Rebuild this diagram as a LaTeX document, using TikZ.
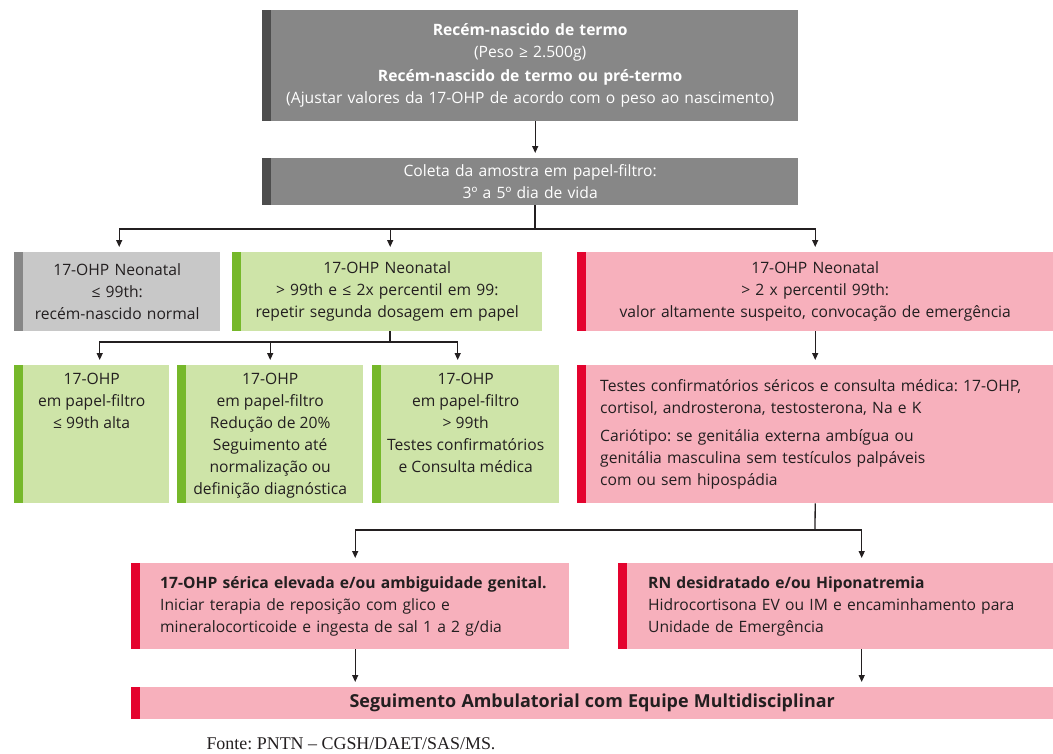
\documentclass[tikz,border=0pt]{standalone}
\usepackage{fontspec}
\setmainfont{Open Sans}
\newfontfamily\fontefont{Liberation Serif}
\usetikzlibrary{arrows.meta}
\frenchspacing
\definecolor{cinza}{RGB}{135,135,135}
\definecolor{cinzaesc}{RGB}{77,77,77}
\definecolor{cinzacl}{RGB}{200,200,200}
\definecolor{verdecl}{RGB}{206,228,168}
\definecolor{verde}{RGB}{118,184,42}
\definecolor{rosa}{RGB}{247,176,188}
\definecolor{vermelho}{RGB}{228,3,46}
\definecolor{texto}{RGB}{35,31,32}
\tikzset{
  caixa/.style 2 args={rectangle, fill=#1, inner sep=0pt, anchor=north west,
    text=texto, font=\fontsize{15.7}{22}\selectfont,
    path picture={\fill[#2] (path picture bounding box.north west)
      rectangle ([xshift=9bp]path picture bounding box.south west);}},
  seta/.style={draw=texto, line width=1.3bp, -{Triangle[length=7bp,width=6bp]}, shorten >=5bp},
  linha/.style={draw=texto, line width=1.3bp},
}
\begin{document}
\begin{tikzpicture}[x=1bp,y=-1bp]
\useasboundingbox (0,0) rectangle (1053,754);
% top boxes
\node[caixa={cinza}{cinzaesc}, minimum height=111bp, text width=536bp, align=center, text=white] (b1) at (262,10) {%
\textbf{Recém-nascido de termo}\\(Peso ≥ 2.500g)\\[2bp]
\textbf{Recém-nascido de termo ou pré-termo}\\(Ajustar valores da 17-OHP de acordo com o peso ao nascimento)};
\node[caixa={cinza}{cinzaesc}, minimum height=47bp, text width=536bp, align=center, text=white] (b2) at (262,158) {%
Coleta da amostra em papel-filtro:\\3º a 5º dia de vida};
% first split
\node[caixa={cinzacl}{cinza}, minimum height=79bp, text width=206bp, align=center] (g0) at (14,252) {%
17-OHP Neonatal\\≤ 99th:\\recém-nascido normal};
\node[caixa={verdecl}{verde}, minimum height=79bp, text width=310bp, align=center] (g1) at (232,252) {%
17-OHP Neonatal\\> 99th e ≤ 2x percentil em 99:\\repetir segunda dosagem em papel};
\node[caixa={rosa}{vermelho}, minimum height=79bp, text width=476bp, align=center] (r1) at (577,252) {%
17-OHP Neonatal\\> 2 x percentil 99th:\\valor altamente suspeito, convocação de emergência};
% second split
\node[caixa={verdecl}{verde}] (a1) at (14,365) {\parbox[c][138bp][t]{155bp}{\centering\vspace{8bp}%
17-OHP\\em papel-filtro\\≤ 99th alta}};
\node[caixa={verdecl}{verde}] (a2) at (177,365) {\parbox[c][138bp][t]{186bp}{\centering\vspace{8bp}%
17-OHP\\em papel-filtro\\Redução de 20\%\\Seguimento até\\normalização ou\\definição diagnóstica}};
\node[caixa={verdecl}{verde}] (a3) at (372,365) {\parbox[c][138bp][t]{187bp}{\centering\vspace{8bp}%
17-OHP\\em papel-filtro\\> 99th\\Testes confirmatórios\\e Consulta médica}};
\node[caixa={rosa}{vermelho}, minimum height=138bp, inner xsep=23bp, text width=430bp, align=left] (r2) at (577,365) {%
Testes confirmatórios séricos e consulta médica: 17-OHP,\\cortisol, androsterona, testosterona, Na e K\\[6bp]
Cariótipo: se genitália externa ambígua ou\\genitália masculina sem testículos palpáveis\\com ou sem hipospádia};
% treatment
\node[caixa={rosa}{vermelho}, minimum height=86bp, inner xsep=29bp, text width=380bp, align=left] (r3) at (131,563) {%
\mbox{\textbf{17-OHP sérica elevada e/ou ambiguidade genital.}}\\Iniciar terapia de reposição com glico e\\mineralocorticoide e ingesta de sal 1 a 2 g/dia};
\node[caixa={rosa}{vermelho}, minimum height=86bp, inner xsep=30bp, text width=375bp, align=left] (r4) at (618,563) {%
\textbf{RN desidratado e/ou Hiponatremia}\\Hidrocortisona EV ou IM e encaminhamento para\\Unidade de Emergência};
\node[caixa={rosa}{vermelho}, minimum height=32bp, text width=922bp, align=center] (r5) at (131,687) {%
\textbf{\fontsize{18}{20}\selectfont Seguimento Ambulatorial com Equipe Multidisciplinar}};
\node[text=texto, font=\fontefont\fontsize{18}{20}\selectfont] (fonte) at (351,744) {Fonte: PNTN – CGSH/DAET/SAS/MS.};
% connectors
\coordinate (j1) at (535,229);
\coordinate (j2) at (390,342);
\coordinate (j3) at (815,530);
\draw[seta] ([xshift=5bp]b1.south) -- ([xshift=5bp]b2.north);
\draw[linha] (b2.south -| j1) -- (j1);
\draw[seta] (j1) -| ([xshift=2bp]g0.north);
\draw[seta] (j1) -| ([xshift=3bp]g1.north);
\draw[seta] (j1) -| (r1.north);
\draw[linha] (g1.south -| j2) -- (j2);
\draw[seta] (j2) -| ([xshift=8bp]a1.north);
\draw[seta] (j2) -| (a2.north);
\draw[seta] (j2) -| ([xshift=-8bp]a3.north);
\draw[seta] (r1) -- (r2);
\draw[linha] (r2.south) -- (j3);
\draw[seta] (j3) -| ([xshift=5bp]r3.north);
\draw[seta] (j3) -| ([xshift=26bp]r4.north);
\draw[seta] ([xshift=5bp]r3.south) -- ([xshift=5bp]r3.south |- r5.north);
\draw[seta] ([xshift=26bp]r4.south) -- ([xshift=26bp]r4.south |- r5.north);
\end{tikzpicture}
\end{document}
